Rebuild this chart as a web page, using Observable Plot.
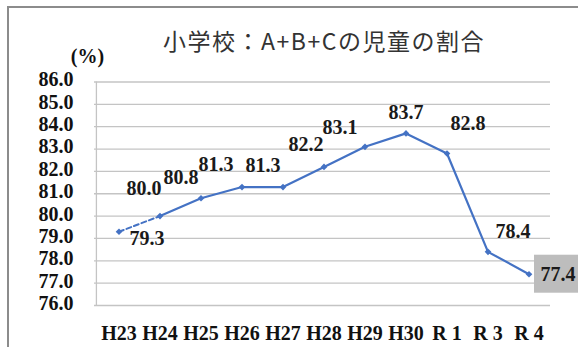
<!DOCTYPE html>
<html>
<head>
<meta charset="utf-8">
<script src="https://cdn.jsdelivr.net/npm/d3@7"></script>
<script src="https://cdn.jsdelivr.net/npm/@observablehq/plot@0.6"></script>
<style>
  html, body { margin: 0; padding: 0; background: #fff; overflow: hidden; }
  #wrap { position: relative; width: 578px; height: 347px; overflow: hidden; background: #fff; }
  #border { position: absolute; left: 7px; top: 6px; width: 660px; height: 420px;
            border: 2px solid #8c8c8c; box-sizing: border-box; }
  #title { position: absolute; left: 0; top: 28px; width: 648px; text-align: center;
           font-family: "Noto Sans CJK JP", sans-serif; font-weight: 400; font-size: 23px;
           line-height: 25px; letter-spacing: 1.5px; color: #333; }
  #chart { position: absolute; left: 0; top: 0; }
</style>
</head>
<body>
<div id="wrap">
  <div id="border"></div>
  <div id="chart"></div>
  <div id="title">小学校：A+B+Cの児童の割合</div>
</div>
<script>
// School years (Heisei 23 … Reiwa 4) and the share of pupils at levels A+B+C (%)
const years = ["H23", "H24", "H25", "H26", "H27", "H28", "H29", "H30", "R 1", "R 3", "R 4"];
const values = [79.3, 80.0, 80.8, 81.3, 81.3, 82.2, 83.1, 83.7, 82.8, 78.4, 77.4];
const yTicks = [76, 77, 78, 79, 80, 81, 82, 83, 84, 85, 86];

// Label placement around each point: [dx, dy] in pixels
const labelNudge = [
  [28, 7], [-16, -28], [-20, -21], [-26, -22], [-20, -21], [-18, -22],
  [-25, -19], [0, -21], [21, -30], [25, -20], [29, 0]
];

const blue = "#4472C4";
const gridColor = "#c4c4c4";
const rows = years.map((k, i) => ({k, v: values[i]}));
const last = rows[rows.length - 1];

const labelMarks = rows.map((d, i) => Plot.text([d], {
  x: "k", y: "v", text: r => r.v.toFixed(1),
  dx: labelNudge[i][0], dy: labelNudge[i][1], fill: "#1a1a1a"
}));

const chart = Plot.plot({
  width: 578,
  height: 347,
  marginLeft: 94,
  marginRight: 28,
  marginTop: 81,
  marginBottom: 41,
  style: {
    fontFamily: "'Liberation Serif', 'Times New Roman', serif",
    fontSize: "20px",
    fontWeight: "bold",
    color: "#111",
    background: "transparent",
    overflow: "visible"
  },
  x: {type: "band", domain: years, padding: 0, range: [96, 550]},
  y: {domain: [76, 86], range: [305, 81.5]},
  marks: [
    Plot.gridY(yTicks, {stroke: gridColor, strokeOpacity: 1, strokeWidth: 1.3}),
    Plot.ruleX([years[0]], {y1: 76, y2: 86, dx: -22.6, stroke: gridColor, strokeWidth: 1.3}),
    // shaded background behind the latest value
    Plot.barY([last], {x: "k", y1: d => d.v - 0.85, y2: d => d.v + 0.85,
                       fill: "#bdbdbd", dx: 26, insetRight: -10}),
    Plot.line(rows.slice(0, 2), {x: "k", y: "v", stroke: blue, strokeWidth: 2,
                                 strokeDasharray: "5,3"}),
    Plot.line(rows.slice(1), {x: "k", y: "v", stroke: blue, strokeWidth: 2.2}),
    Plot.dot(rows, {x: "k", y: "v", symbol: "diamond2", r: 3, fill: blue, stroke: "none"}),
    ...labelMarks,
    Plot.axisX({tickSize: 0, tickPadding: 19, label: null}),
    Plot.axisY(yTicks, {tickSize: 0, tickPadding: 21, dy: -2,
                        tickFormat: d => d.toFixed(1), label: null}),
    Plot.text(["(%)"], {frameAnchor: "top-left", textAnchor: "middle", text: d => d,
                        dx: -7, dy: -33, fill: "#111"})
  ]
});

document.getElementById("chart").appendChild(chart);
</script>
</body>
</html>
